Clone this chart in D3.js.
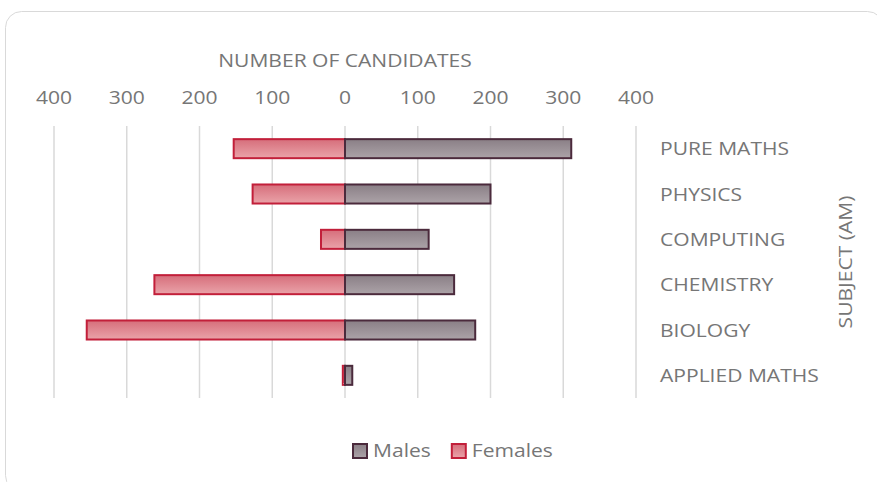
<!DOCTYPE html>
<html>
<head>
<meta charset="utf-8">
<script src="https://cdn.jsdelivr.net/npm/d3@7"></script>
<style>
    body { margin: 0; background: #ffffff; }
    text { font-family: "Open Sans", sans-serif; fill: #767676; }
</style>
</head>
<body>
<svg id="chart" width="877" height="482"></svg>
<script>
const subjects = ["PURE MATHS", "PHYSICS", "COMPUTING", "CHEMISTRY", "BIOLOGY", "APPLIED MATHS"];
const males = [311, 200, 115, 150, 179, 10];
const females = [153, 127, 33, 262, 355, 3];
const ticks = [-400, -300, -200, -100, 0, 100, 200, 300, 400];
const seriesNames = ["Males", "Females"];

const width = 877, height = 482;
const margin = { left: 54, right: 241, top: 126, bottom: 84 };
const stretch = 1.17;   // text in the original is drawn a bit wide

const svg = d3.select("#chart");

// gradients for the bar fills
const defs = svg.append("defs");
function gradient(id, c1, c2) {
    const g = defs.append("linearGradient")
        .attr("id", id)
        .attr("x1", 0).attr("y1", 0)
        .attr("x2", 0).attr("y2", 1);
    g.append("stop").attr("offset", "0%").attr("stop-color", c1);
    g.append("stop").attr("offset", "100%").attr("stop-color", c2);
}
gradient("gradMale", "#8a7f86", "#aca3a8");
gradient("gradFemale", "#d66e7b", "#eaa3a9");

const styles = {
    Males: { fill: "url(#gradMale)", stroke: "#4b2a3c" },
    Females: { fill: "url(#gradFemale)", stroke: "#c21f3a" }
};

function label(parent, x, y, str, anchor, rotate) {
    return parent.append("text")
        .attr("transform", "translate(" + x + "," + y + ")" + (rotate ? " rotate(" + rotate + ")" : "") + " scale(" + stretch + ",1)")
        .attr("text-anchor", anchor || "start")
        .attr("font-size", 18)
        .text(str);
}

// chart area frame
svg.append("rect")
    .attr("x", 5.5)
    .attr("y", 11.5)
    .attr("width", 878)
    .attr("height", 480)
    .attr("rx", 16)
    .attr("fill", "#ffffff")
    .attr("stroke", "#d9d9d9");

const x = d3.scaleLinear()
    .domain([-400, 400])
    .range([margin.left, width - margin.right]);

const y = d3.scaleBand()
    .domain(subjects)
    .range([margin.top, height - margin.bottom])
    .paddingInner(0.58)
    .paddingOuter(0.29);

// grid lines
svg.append("g")
    .selectAll("line")
    .data(ticks)
    .join("line")
    .attr("x1", d => x(d))
    .attr("x2", d => x(d))
    .attr("y1", margin.top)
    .attr("y2", height - margin.bottom)
    .attr("stroke", "#d9d9d9")
    .attr("stroke-width", 1.5);

// top axis labels
const axisTop = svg.append("g");
ticks.forEach(d => label(axisTop, x(d), 103.5, Math.abs(d), "middle"));
label(svg, x(0), 67, "NUMBER OF CANDIDATES", "middle");

// bars
const bars = svg.append("g");

bars.selectAll("rect.female")
    .data(subjects)
    .join("rect")
    .attr("class", "female")
    .attr("x", (d, i) => x(-females[i]))
    .attr("y", d => y(d))
    .attr("width", (d, i) => x(0) - x(-females[i]))
    .attr("height", y.bandwidth())
    .attr("fill", styles.Females.fill)
    .attr("stroke", styles.Females.stroke)
    .attr("stroke-width", 2);

bars.selectAll("rect.male")
    .data(subjects)
    .join("rect")
    .attr("class", "male")
    .attr("x", x(0))
    .attr("y", d => y(d))
    .attr("width", (d, i) => x(males[i]) - x(0))
    .attr("height", y.bandwidth())
    .attr("fill", styles.Males.fill)
    .attr("stroke", styles.Males.stroke)
    .attr("stroke-width", 2);

// category labels on the right
const cats = svg.append("g");
subjects.forEach(d => label(cats, 660, y(d) + y.bandwidth() / 2 + 6.5, d));

label(svg, 852, (margin.top + height - margin.bottom) / 2, "SUBJECT (AM)", "middle", -90);

// legend
const legend = svg.append("g");
let lx = 353;
seriesNames.forEach(name => {
    legend.append("rect")
        .attr("x", lx)
        .attr("y", 444)
        .attr("width", 14)
        .attr("height", 14)
        .attr("fill", styles[name].fill)
        .attr("stroke", styles[name].stroke)
        .attr("stroke-width", 2);
    const t = label(legend, lx + 20, 457, name);
    lx += 20 + t.node().getComputedTextLength() * stretch + 21;
});
</script>
</body>
</html>
